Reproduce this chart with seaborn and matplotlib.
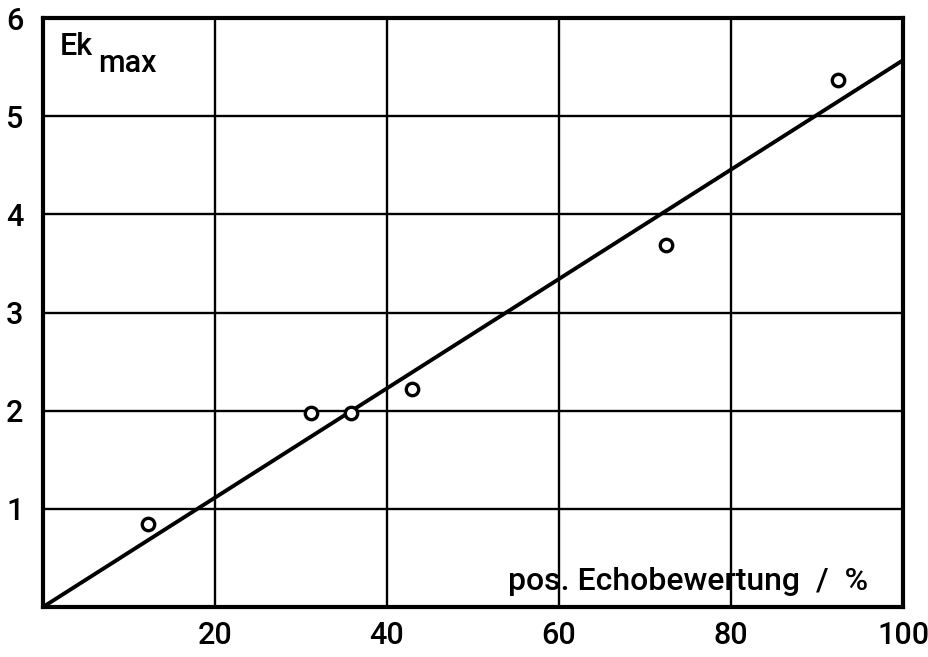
import matplotlib
matplotlib.use("Agg")
import matplotlib.pyplot as plt
import seaborn as sns
import pandas as pd

# Measured points: positive echo rating (%) vs. Ek_max
echo_pct = [12.2, 31.2, 35.8, 42.9, 72.4, 92.4]
ek_max = [0.85, 1.98, 1.98, 2.22, 3.69, 5.37]

# Regression line through the origin
fit_x = [0, 100]
fit_y = [0, 5.57]

x_ticks = [20, 40, 60, 80, 100]
y_ticks = [1, 2, 3, 4, 5, 6]

sns.set_theme(style="white")
plt.rcParams["font.family"] = ["Roboto", "DejaVu Sans"]
plt.rcParams["font.weight"] = "medium"

fig = plt.figure(figsize=(9.29, 6.57), dpi=100)
ax = fig.add_axes([43 / 929, 50 / 657, 860 / 929, 589 / 657])

pts = pd.DataFrame({"x": echo_pct, "y": ek_max})
fit = pd.DataFrame({"x": fit_x, "y": fit_y})

sns.lineplot(data=fit, x="x", y="y", ax=ax, color="black", linewidth=2.8, zorder=3)
sns.scatterplot(data=pts, x="x", y="y", ax=ax, marker="o", s=80,
                facecolor="white", edgecolor="black", linewidth=2.4, zorder=4)

ax.set_xlim(0, 100)
ax.set_ylim(0, 6)
ax.set_xticks(x_ticks)
ax.set_yticks(y_ticks)
ax.set_xticklabels([str(v) for v in x_ticks])
ax.set_yticklabels([str(v) for v in y_ticks])
ax.tick_params(axis="both", length=0, labelsize=22, colors="black")
ax.tick_params(axis="x", pad=10)
ax.tick_params(axis="y", pad=14)
ax.set_xlabel("")
ax.set_ylabel("")

ax.grid(True, color="black", linewidth=1.7)
ax.set_axisbelow(True)
for sp in ax.spines.values():
    sp.set_color("black")
    sp.set_linewidth(3.0)

ax.text(2.0, 5.62, "Ek", fontsize=22, ha="left", va="baseline", color="black")
ax.text(6.4, 5.45, "max", fontsize=22, ha="left", va="baseline", color="black")
ax.text(95.9, 0.17, "pos. Echobewertung  /  %", fontsize=23, ha="right",
        va="baseline", color="black")

fig.savefig("out.png", dpi=100)
